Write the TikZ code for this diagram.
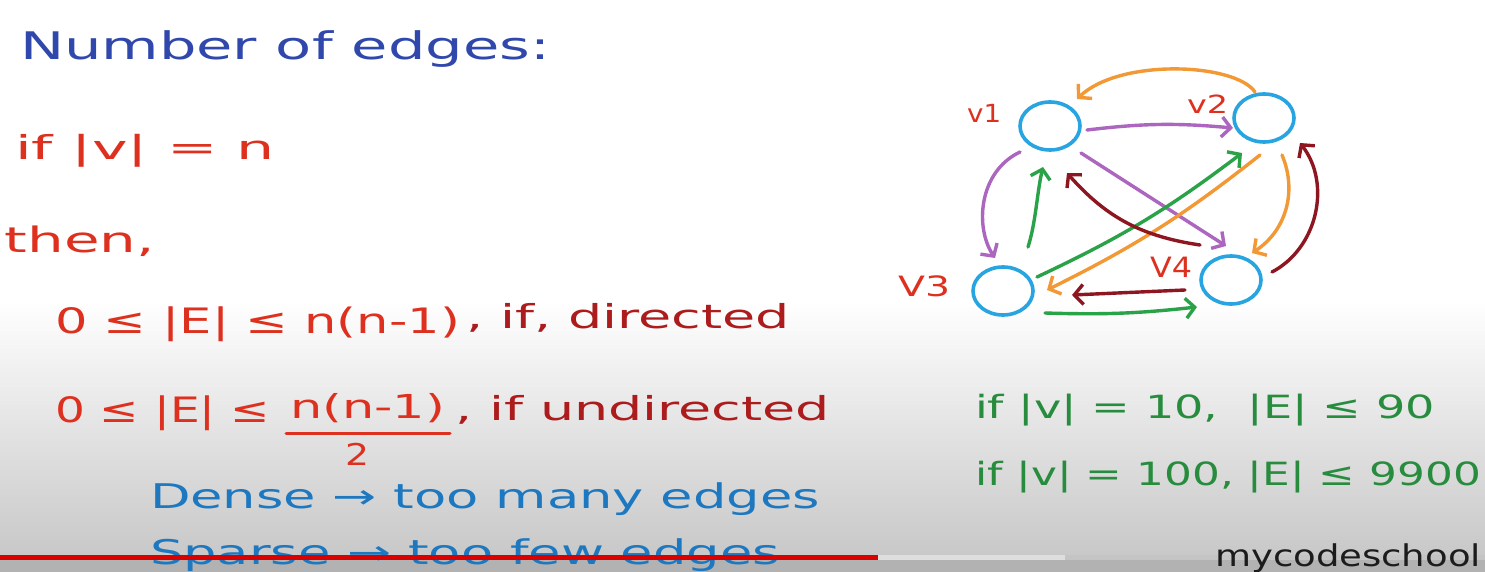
\documentclass[tikz,border=0pt]{standalone}
\usepackage{fontspec}
\setmainfont{DejaVu Sans}
\usetikzlibrary{arrows.meta,shapes.geometric}
\definecolor{titleblue}{RGB}{48,72,172}
\definecolor{penred}{RGB}{222,48,30}
\definecolor{darkpen}{RGB}{172,28,28}
\definecolor{tealblue}{RGB}{30,120,192}
\definecolor{pengreen}{RGB}{40,140,62}
\definecolor{ringcyan}{RGB}{40,165,225}
\definecolor{edgeorange}{RGB}{242,152,52}
\definecolor{edgepurple}{RGB}{172,102,192}
\definecolor{edgedark}{RGB}{142,22,32}
\definecolor{edgegreen}{RGB}{42,162,72}
\definecolor{bggray}{RGB}{200,200,200}
\definecolor{stripgray}{RGB}{178,178,178}
\definecolor{barlight}{RGB}{222,222,222}
\definecolor{barfaint}{RGB}{196,196,196}
\definecolor{logoblack}{RGB}{28,28,28}
\newcommand{\hw}[2]{\resizebox{#1}{\height}{#2}}
\begin{document}
\begin{tikzpicture}[x=1pt,y=-1pt,
  txt/.style={anchor=base west,inner sep=0pt,outer sep=0pt},
  vtx/.style={ellipse,draw=ringcyan,line width=3.6pt,minimum width=60pt,minimum height=48pt,inner sep=0pt},
  vlabel/.style={anchor=base west,inner sep=0pt,text=penred},
  arc/.style={line width=3.4pt,line cap=round,-{Straight Barb[length=9pt,width=20pt,line width=3.4pt]}}]
\useasboundingbox (0,0) rectangle (1485,572);
% background
\fill[white] (0,0) rectangle (1485,572);
\shade[top color=white,bottom color=bggray] (0,300) rectangle (1485,556);
\fill[stripgray] (0,556) rectangle (1485,572);
% left texts
\node[txt,text=titleblue,font=\fontsize{38}{38}\selectfont] (title) at (20,60) {\hw{530pt}{Number of edges:}};
\node[txt,text=penred,font=\fontsize{33}{33}\selectfont] (ifv) at (15,160) {\hw{260pt}{if |v| = n}};
\node[txt,text=penred,font=\fontsize{35}{35}\selectfont] (then) at (5,252) {\hw{150pt}{then,}};
\node[txt,text=penred,font=\fontsize{35}{35}\selectfont] (dirA) at (55,333) {\hw{405pt}{0 ≤ |E| ≤ n(n-1)}};
\node[txt,text=darkpen,font=\fontsize{33}{33}\selectfont] (dirB) at (466,328) {\hw{324pt}{, if, directed}};
\node[txt,text=penred,font=\fontsize{35}{35}\selectfont] (undA) at (55,422) {\hw{215pt}{0 ≤ |E| ≤}};
\node[txt,text=penred,font=\fontsize{33}{33}\selectfont] (num) at (290,418) {\hw{155pt}{n(n-1)}};
\draw[penred,line width=3pt,line cap=round] (286,433) -- (450,433);
\node[txt,text=penred,font=\fontsize{30}{30}\selectfont] (den) at (345,465) {\hw{24pt}{2}};
\node[txt,text=darkpen,font=\fontsize{33}{33}\selectfont] (undB) at (455,420) {\hw{375pt}{, if undirected}};
\node[txt,text=tealblue,font=\fontsize{34}{34}\selectfont] (dense) at (150,508) {\hw{670pt}{Dense → too many edges}};
\node[txt,text=tealblue,font=\fontsize{34}{34}\selectfont] (sparse) at (150,564) {\hw{630pt}{Sparse → too few edges}};
% green texts
\node[txt,text=pengreen,font=\fontsize{32}{32}\selectfont] (ex1) at (975,418) {\hw{460pt}{if |v| = 10,\ \ |E| ≤ 90}};
\node[txt,text=pengreen,font=\fontsize{32}{32}\selectfont] (ex2) at (975,485) {\hw{506pt}{if |v| = 100, |E| ≤ 9900}};
% progress bar and logo
\fill[red!85!black] (0,555) rectangle (878,560);
\fill[barlight] (878,555) rectangle (1065,560);
\fill[barfaint] (1065,555) rectangle (1485,560);
\node[txt,text=logoblack,font=\fontsize{30}{30}\selectfont] (logo) at (1215,566) {\hw{266pt}{mycodeschool}};
% graph
\node[vtx] (v1) at (1050,126) {};
\node[vtx] (v2) at (1264,118) {};
\node[vtx] (v3) at (1003,291) {};
\node[vtx] (v4) at (1231,280) {};
\node[vlabel,font=\fontsize{25}{25}\selectfont] (l1) at (967,123) {\hw{34pt}{v1}};
\node[vlabel,font=\fontsize{25}{25}\selectfont] (l2) at (1187,114) {\hw{41pt}{v2}};
\node[vlabel,font=\fontsize{28}{28}\selectfont] (l3) at (898,296) {\hw{52pt}{V3}};
\node[vlabel,font=\fontsize{28}{28}\selectfont] (l4) at (1150,277) {\hw{42pt}{V4}};
% edges
\draw[arc,edgeorange] ([shift={(-9,-26)}]v2.center) .. controls (1235,63) and (1120,58) .. ([shift={(27,-27)}]v1.center);
\draw[arc,edgepurple] ([shift={(37,4)}]v1.center) to[bend left=6] ([shift={(-31,10)}]v2.center);
\draw[arc,edgepurple] ([shift={(31,27)}]v1.center) -- ([shift={(-5,-34)}]v4.center);
\draw[arc,edgepurple] ([shift={(-30,26)}]v1.center) .. controls (978,172) and (975,228) .. ([shift={(-8,-33)}]v3.center);
\draw[arc,edgegreen] ([shift={(25,-44)}]v3.center) .. controls (1036,222) and (1037,192) .. ([shift={(-7,41)}]v1.center);
\draw[arc,edgegreen] ([shift={(34,-14)}]v3.center) to[bend right=6] ([shift={(-22,35)}]v2.center);
\draw[arc,edgeorange] ([shift={(-4,37)}]v2.center) to[bend left=6] ([shift={(44,-1)}]v3.center);
\draw[arc,edgeorange] ([shift={(18,37)}]v2.center) to[bend left=40] ([shift={(21,-27)}]v4.center);
\draw[arc,edgedark] ([shift={(-31,-35)}]v4.center) to[bend left=20] ([shift={(17,47)}]v1.center);
\draw[arc,edgedark] ([shift={(41,-8)}]v4.center) to[bend right=50] ([shift={(36,25)}]v2.center);
\draw[arc,edgedark] ([shift={(-46,10)}]v4.center) -- ([shift={(69,4)}]v3.center);
\draw[arc,edgegreen] ([shift={(42,22)}]v3.center) to[bend right=4] ([shift={(-34,27)}]v4.center);
\end{tikzpicture}
\end{document}
